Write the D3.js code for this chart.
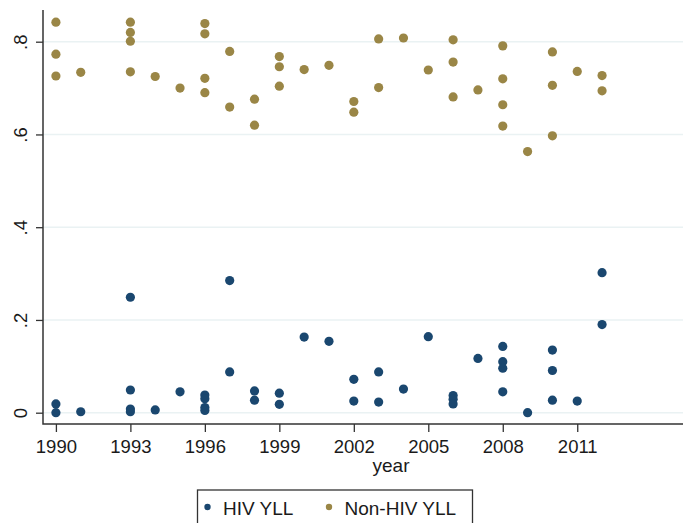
<!DOCTYPE html>
<html>
<head>
<meta charset="utf-8">
<script src="https://cdn.jsdelivr.net/npm/d3@7"></script>
<style>
  body { margin: 0; background: #fff; }
  svg text { font-family: "Liberation Sans", Arial, Helvetica, sans-serif; fill: #1a1a1a; }
</style>
</head>
<body>
<div id="chart"></div>
<script>
// data
let hivYear = [1990,1990,1991,1993,1993,1993,1993,1994,1995,1996,1996,1996,1996,1997,1997,
  1998,1998,1999,1999,2000,2001,2002,2002,2003,2003,2004,2005,2006,2006,2006,2007,
  2008,2008,2008,2008,2009,2010,2010,2010,2011,2012,2012];
let hivValue = [0.019,0.000,0.002,0.249,0.049,0.008,0.002,0.006,0.045,0.038,0.030,0.011,0.005,0.285,0.088,
  0.047,0.027,0.042,0.018,0.163,0.154,0.072,0.025,0.088,0.023,0.051,0.164,0.037,0.029,0.019,0.117,
  0.143,0.110,0.096,0.045,0.000,0.135,0.091,0.027,0.025,0.302,0.190];

let nonYear = [1990,1990,1990,1991,1993,1993,1993,1993,1994,1995,1996,1996,1996,1996,1997,1997,
  1998,1998,1999,1999,1999,2000,2001,2002,2002,2003,2003,2004,2005,2006,2006,2006,2007,
  2008,2008,2008,2008,2009,2010,2010,2010,2011,2012,2012];
let nonValue = [0.842,0.773,0.726,0.734,0.842,0.820,0.801,0.735,0.725,0.700,0.839,0.817,0.721,0.690,0.779,0.659,
  0.676,0.620,0.768,0.746,0.704,0.740,0.749,0.671,0.648,0.806,0.701,0.808,0.739,0.804,0.756,0.681,0.696,
  0.791,0.720,0.664,0.618,0.563,0.778,0.706,0.597,0.736,0.727,0.694];

let xTicks = [1990,1993,1996,1999,2002,2005,2008,2011];
let yTicks = [0, 0.2, 0.4, 0.6, 0.8];
let yTickLabels = ["0", ".2", ".4", ".6", ".8"];
let seriesNames = ["HIV YLL", "Non-HIV YLL"];
let seriesColors = ["#1a476f", "#9a8646"];

let width = 683, height = 523;

let svg = d3.select("#chart").append("svg")
  .attr("width", width)
  .attr("height", height);

let x = d3.scaleLinear().domain([1989.48, 2015.26]).range([43, 683]);
let y = d3.scaleLinear().domain([0, 0.8]).range([412.7, 41.7]);

// gridlines
svg.append("g")
  .selectAll("line")
  .data(yTicks)
  .enter().append("line")
  .attr("x1", x.range()[0])
  .attr("x2", x.range()[1])
  .attr("y1", d => y(d))
  .attr("y2", d => y(d))
  .attr("stroke", "#eaf2f3")
  .attr("stroke-width", 1.6);

// y axis
let yAxis = svg.append("g")
  .attr("transform", "translate(43,0)")
  .call(d3.axisLeft(y).tickValues(yTicks).tickSize(7).tickFormat((d, i) => yTickLabels[i]));
yAxis.select(".domain").remove();
yAxis.selectAll(".tick line").attr("stroke", "#333").attr("stroke-width", 1.3);
yAxis.selectAll(".tick text")
  .attr("x", null).attr("dy", null)
  .attr("text-anchor", "middle")
  .attr("transform", "translate(-16.5,0) rotate(-90)")
  .style("font-size", "18.5px");

// x axis
let xAxis = svg.append("g")
  .attr("transform", "translate(0,424)")
  .call(d3.axisBottom(x).tickValues(xTicks).tickSize(8).tickFormat(d3.format("d")));
xAxis.select(".domain").remove();
xAxis.selectAll(".tick line").attr("stroke", "#333").attr("stroke-width", 1.3);
xAxis.selectAll(".tick text")
  .attr("dy", null)
  .attr("y", 29)
  .style("font-size", "18.5px");

// axis lines
svg.append("path")
  .attr("d", "M43,10V424H683")
  .attr("fill", "none")
  .attr("stroke", "#333")
  .attr("stroke-width", 1.5);

// axis title
svg.append("text")
  .attr("x", 391)
  .attr("y", 472)
  .attr("text-anchor", "middle")
  .style("font-size", "19px")
  .text("year");

// points
svg.append("g")
  .selectAll("circle")
  .data(nonYear.map((d, i) => [d, nonValue[i]]))
  .enter().append("circle")
  .attr("cx", d => x(d[0]))
  .attr("cy", d => y(d[1]))
  .attr("r", 4.6)
  .attr("fill", seriesColors[1]);

svg.append("g")
  .selectAll("circle")
  .data(hivYear.map((d, i) => [d, hivValue[i]]))
  .enter().append("circle")
  .attr("cx", d => x(d[0]))
  .attr("cy", d => y(d[1]))
  .attr("r", 4.6)
  .attr("fill", seriesColors[0]);

// legend
let legend = svg.append("g");
legend.append("rect")
  .attr("x", 197.5)
  .attr("y", 490)
  .attr("width", 275)
  .attr("height", 60)
  .attr("fill", "#fff")
  .attr("stroke", "#333")
  .attr("stroke-width", 1.3);

let legendX = [207.5, 329];
legend.selectAll("circle")
  .data(seriesNames)
  .enter().append("circle")
  .attr("cx", (d, i) => legendX[i])
  .attr("cy", 507)
  .attr("r", 3.2)
  .attr("fill", (d, i) => seriesColors[i]);
legend.selectAll("text")
  .data(seriesNames)
  .enter().append("text")
  .attr("x", (d, i) => legendX[i] + 15.5)
  .attr("y", 515)
  .style("font-size", "19px")
  .text(d => d);
</script>
</body>
</html>
